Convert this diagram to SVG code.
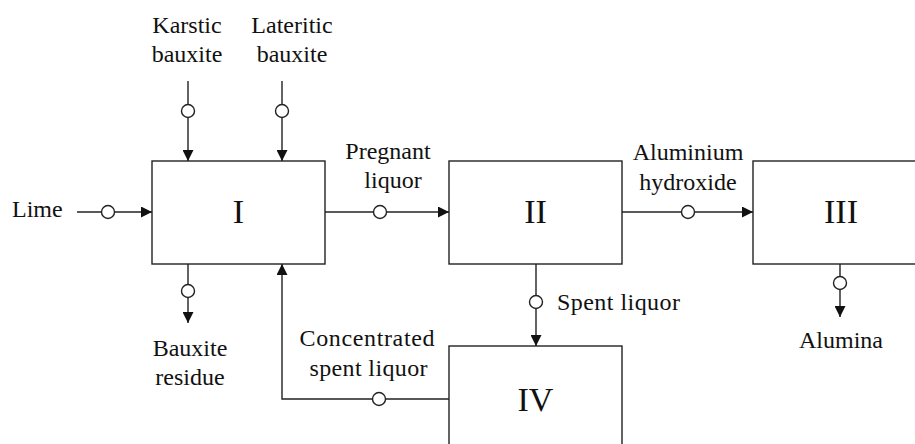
<svg xmlns="http://www.w3.org/2000/svg" width="915" height="444" viewBox="0 0 915 444">
<style>
.box{fill:#fff;stroke:#222;stroke-width:1.4}
.ln{fill:none;stroke:#222;stroke-width:1.4}
.pt{fill:#fff;stroke:#222;stroke-width:1.4}
.lbl{font-family:"Liberation Serif","Times New Roman",serif;font-size:24px;fill:#111}
.num{font-family:"Liberation Serif","Times New Roman",serif;font-size:34px;fill:#111;text-anchor:middle}
.c{text-anchor:middle}
</style>
<defs>
<marker id="arr" viewBox="0 0 10 10" refX="10" refY="5" markerWidth="11" markerHeight="11" markerUnits="userSpaceOnUse" orient="auto">
<path d="M0,0 L10,5 L0,10 z" fill="#111"/>
</marker>
</defs>
<rect width="915" height="444" fill="#fff"/>
<g id="node-I"><rect class="box" x="152" y="161" width="173" height="103"/><text class="num" x="238.5" y="223">I</text></g>
<g id="node-II"><rect class="box" x="449" y="161" width="173" height="103"/><text class="num" x="535.5" y="223">II</text></g>
<g id="node-III"><rect class="box" x="753" y="161" width="180" height="103"/><text class="num" x="841" y="223">III</text></g>
<g id="node-IV"><rect class="box" x="449" y="346" width="173" height="110"/><text class="num" x="535.5" y="411">IV</text></g>
<g id="connectors">
<line class="ln" x1="77" y1="212" x2="152" y2="212" marker-end="url(#arr)"/>
<line class="ln" x1="188" y1="81" x2="188" y2="161" marker-end="url(#arr)"/>
<line class="ln" x1="282" y1="81" x2="282" y2="161" marker-end="url(#arr)"/>
<line class="ln" x1="325" y1="212" x2="449" y2="212" marker-end="url(#arr)"/>
<line class="ln" x1="188" y1="264" x2="188" y2="323" marker-end="url(#arr)"/>
<polyline class="ln" points="449,399 282,399 282,264" marker-end="url(#arr)"/>
<line class="ln" x1="536" y1="264" x2="536" y2="346" marker-end="url(#arr)"/>
<line class="ln" x1="622" y1="212" x2="753" y2="212" marker-end="url(#arr)"/>
<line class="ln" x1="840" y1="264" x2="840" y2="317" marker-end="url(#arr)"/>
<circle class="pt" cx="108" cy="212" r="6.5"/>
<circle class="pt" cx="188" cy="111" r="6.5"/>
<circle class="pt" cx="282" cy="111" r="6.5"/>
<circle class="pt" cx="380" cy="212" r="6.5"/>
<circle class="pt" cx="188" cy="291" r="6.5"/>
<circle class="pt" cx="379" cy="399" r="6.5"/>
<circle class="pt" cx="536" cy="302" r="6.5"/>
<circle class="pt" cx="688" cy="212" r="6.5"/>
<circle class="pt" cx="840" cy="283" r="6.5"/>
</g>
<g id="labels">
<text class="lbl" x="12" y="217">Lime</text>
<text class="lbl c" x="187" y="33">Karstic</text>
<text class="lbl c" x="187" y="62">bauxite</text>
<text class="lbl c" x="292" y="33">Lateritic</text>
<text class="lbl c" x="292" y="62">bauxite</text>
<text class="lbl c" x="388" y="159">Pregnant</text>
<text class="lbl c" x="393" y="188">liquor</text>
<text class="lbl c" x="688" y="160">Aluminium</text>
<text class="lbl c" x="688" y="190">hydroxide</text>
<text class="lbl c" x="190" y="356">Bauxite</text>
<text class="lbl c" x="190" y="385">residue</text>
<text class="lbl c" x="367" y="346" textLength="135" lengthAdjust="spacing">Concentrated</text>
<text class="lbl c" x="368.5" y="376" textLength="118" lengthAdjust="spacing">spent liquor</text>
<text class="lbl" x="557" y="310" textLength="123" lengthAdjust="spacing">Spent liquor</text>
<text class="lbl c" x="841" y="348">Alumina</text>
</g>
</svg>
